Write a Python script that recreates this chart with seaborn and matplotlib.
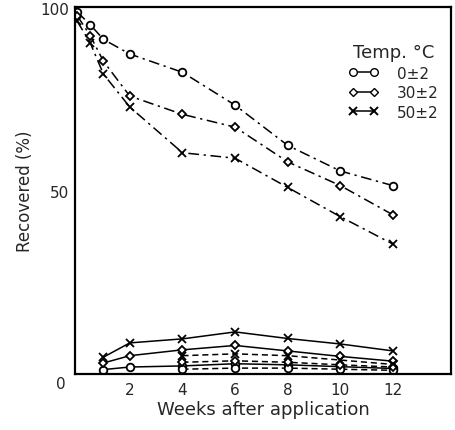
import matplotlib
matplotlib.use("Agg")
import matplotlib.pyplot as plt
import seaborn as sns
import pandas as pd
from matplotlib.lines import Line2D

# ---- data ----
weeks_main = [0, 0.5, 1, 2, 4, 6, 8, 10, 12]
rec_0 = [99, 95.5, 91.5, 87.5, 82.5, 73.5, 62.5, 55.5, 51.5]
rec_30 = [98, 92.5, 85.5, 76, 71, 67.5, 58, 51.5, 43.5]
rec_50 = [96.5, 90.5, 82, 73, 60.5, 59, 51, 43, 35.5]

weeks_low = [1, 2, 4, 6, 8, 10, 12]
met_a_0 = [1.2, 1.9, 2.2, 2.8, 2.5, 2.0, 1.5]
met_a_30 = [3.0, 5.0, 6.6, 7.8, 6.3, 4.8, 3.5]
met_a_50 = [4.6, 8.5, 9.6, 11.5, 9.7, 8.2, 6.3]

weeks_b = [4, 6, 8, 10, 12]
met_b_0 = [1.3, 1.6, 1.6, 1.3, 1.0]
met_b_30 = [3.2, 3.6, 3.2, 2.5, 1.9]
met_b_50 = [5.0, 5.5, 5.0, 3.8, 2.6]

temps = ["0±2", "30±2", "50±2"]
x_ticks = [2, 4, 6, 8, 10, 12]

sns.set_theme(style="white")
plt.rcParams['font.family'] = ['DejaVu Sans']

fig = plt.figure(figsize=(4.56, 4.31), dpi=100)
ax = fig.add_axes([0.1645, 0.13, 0.8245, 0.851])

markers = {"0±2": dict(marker="o", markersize=5.5),
           "30±2": dict(marker="D", markersize=4.5),
           "50±2": dict(marker="x", markersize=5.5, markeredgewidth=1.4)}

groups = [
    (weeks_main, [rec_0, rec_30, rec_50], (0, (7, 3, 1.5, 3))),
    (weeks_low, [met_a_0, met_a_30, met_a_50], "-"),
    (weeks_b, [met_b_0, met_b_30, met_b_50], (0, (4, 2.5))),
]

for wk, series, ls in groups:
    for t, vals in zip(temps, series):
        df = pd.DataFrame({"week": wk, "rec": vals})
        sns.lineplot(data=df, x="week", y="rec", ax=ax, color="black",
                     linestyle=ls, linewidth=1.1, mfc="white", mec="black",
                     mew=1.3, **{k: v for k, v in markers[t].items() if k != "markeredgewidth"})

ax.set_xlim(-0.08, 14.2)
ax.set_ylim(0, 100.3)
ax.set_xticks(x_ticks)
ax.set_xticklabels([str(v) for v in x_ticks], fontsize=11)
ax.set_yticks(list(range(0, 101, 10)))
ax.set_yticklabels(["" if v not in (50, 100) else str(v) for v in range(0, 101, 10)], fontsize=11)
ax.tick_params(axis="y", direction="inout", length=5, width=1.3, pad=2)
ax.tick_params(axis="x", direction="in", length=3, width=1.0, pad=6)
ax.text(-0.024, -0.005, "0", transform=ax.transAxes, ha="right", va="top", fontsize=11)

for s in ax.spines.values():
    s.set_color("black")
    s.set_linewidth(1.6)

ax.set_xlabel("Weeks after application", fontsize=13, labelpad=2)
ax.set_ylabel("Recovered (%)", fontsize=12, labelpad=4)

handles = [Line2D([], [], color="black", linestyle="-", linewidth=1.1,
                  mfc="white", mec="black", **markers[t]) for t in temps]
leg = ax.legend(handles, temps, title="Temp. °C", loc="upper left",
                bbox_to_anchor=(0.69, 0.94), frameon=False, numpoints=2,
                fontsize=11, title_fontsize=13, handlelength=2.0,
                handletextpad=1.2, labelspacing=0.3)

fig.savefig("out.png", dpi=100)
